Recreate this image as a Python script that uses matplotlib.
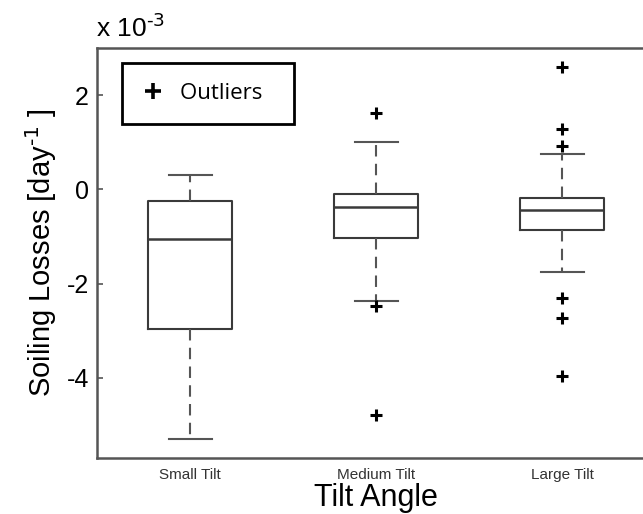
import matplotlib.pyplot as plt
from matplotlib.lines import Line2D

plt.rcParams['font.family'] = ['Liberation Sans', 'DejaVu Sans']

# soiling loss box statistics, units of 1e-3 per day
groups = ["Small Tilt", "Medium Tilt", "Large Tilt"]
whislo = [-5.29, -2.37, -1.75]
q1 = [-2.96, -1.04, -0.87]
med = [-1.06, -0.38, -0.44]
q3 = [-0.25, -0.10, -0.19]
whishi = [0.30, 1.01, 0.74]
outliers = [
    [],
    [1.63, -2.47, -4.78],
    [2.60, 1.29, 0.93, -2.30, -2.73, -3.97],
]

stats = []
for i in range(len(groups)):
    stats.append({"label": groups[i], "whislo": whislo[i], "q1": q1[i],
                  "med": med[i], "q3": q3[i], "whishi": whishi[i],
                  "fliers": outliers[i]})

fig = plt.figure(figsize=(6.43, 5.14), dpi=100)
ax = fig.add_axes([0.151, 0.109, 0.868, 0.7977])

edge = "#3a3a3a"
ax.bxp(stats, positions=[1, 2, 3], widths=0.45, showfliers=True,
       boxprops=dict(color=edge, linewidth=1.5),
       medianprops=dict(color=edge, linewidth=1.8),
       whiskerprops=dict(color="#555555", linewidth=1.5, linestyle=(0, (5.5, 3.5))),
       capprops=dict(color="#555555", linewidth=1.5),
       capwidths=0.23,
       flierprops=dict(marker="+", markersize=9, markeredgewidth=2.2,
                       markeredgecolor="black", linestyle="none"))

ax.set_xlim(0.5, 3.5)
ax.set_ylim(-5.7, 3.0)
ax.set_yticks([-4, -2, 0, 2])
ax.set_yticklabels(["-4", "-2", "0", "2"], fontsize=18)
ax.tick_params(axis="y", direction="in", length=4, width=1.2, color="#555555", pad=6)
ax.tick_params(axis="x", length=0, labelsize=11, labelcolor="#333333", pad=7)
ax.set_xticklabels(groups)

for side in ["left", "bottom", "top"]:
    ax.spines[side].set_color("#555555")
    ax.spines[side].set_linewidth(1.8)
ax.spines["right"].set_visible(False)

ax.set_ylabel(r"Soiling Losses [day$^{\text{-1}}$ ]", fontsize=21, labelpad=5)
ax.set_xlabel("Tilt Angle", fontsize=22, labelpad=1)

fig.text(0.150, 0.918, r"x 10$^{\text{-3}}$", fontsize=19, ha="left", va="bottom")

handle = Line2D([], [], marker="+", markersize=11, markeredgewidth=2.6,
                color="black", linestyle="none")
leg = ax.legend([handle], ["Outliers  "], loc="upper left",
                bbox_to_anchor=(0.045, 0.963), borderaxespad=0,
                fancybox=False, framealpha=1,
                borderpad=0.9, handletextpad=0.7, handlelength=1.0,
                prop={"family": "Open Sans", "size": 16})
leg.get_frame().set_edgecolor("black")
leg.get_frame().set_linewidth(2)

fig.savefig("out.png", dpi=100)
